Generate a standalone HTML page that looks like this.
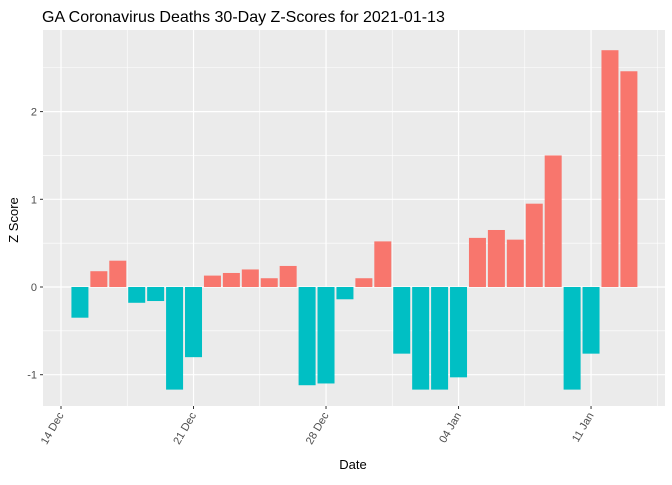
<!DOCTYPE html>
<html><head><meta charset="utf-8"><style>
body{margin:0;background:#fff;font-family:"Liberation Sans",sans-serif}
</style></head><body>
<svg id="chart" width="672" height="480" xmlns="http://www.w3.org/2000/svg" font-family="Liberation Sans, sans-serif">
<rect width="672" height="480" fill="#fff"/>
<text x="42" y="22" font-size="16" fill="#000">GA Coronavirus Deaths 30-Day Z-Scores for 2021-01-13</text>
<rect x="43" y="30" width="622" height="376" fill="#EBEBEB"/>
<g id="grid"></g>
<g id="bars"></g>
<g id="axes"></g>
<text transform="translate(18,220) rotate(-90)" text-anchor="middle" font-size="13" fill="#000">Z Score</text>
<text x="353" y="469" text-anchor="middle" font-size="13" fill="#000">Date</text>
</svg>
<script>
const dayOffsets=[1,2,3,4,5,6,7,8,9,10,11,12,13,14,15,16,17,18,19,20,21,22,23,24,25,26,27,28,29,30];
const zScores=[-0.35,0.18,0.3,-0.18,-0.16,-1.17,-0.8,0.13,0.16,0.2,0.1,0.24,-1.12,-1.1,-0.14,0.1,0.52,-0.76,-1.17,-1.17,-1.03,0.56,0.65,0.54,0.95,1.5,-1.17,-0.76,2.7,2.46];
const xTickDays=[0,7,14,21,28];
const xTickLabels=["14 Dec","21 Dec","28 Dec","04 Jan","11 Jan"];
const yTicks=[-1,0,1,2];
const NS="http://www.w3.org/2000/svg";
const x=d=>61+d*18.93;
const y=v=>287-v*87.7;
const L=43,R=665,T=30,B=406;
function mk(tag,attrs,parent){const e=document.createElementNS(NS,tag);for(const k in attrs)e.setAttribute(k,attrs[k]);parent.appendChild(e);return e;}
const grid=document.getElementById('grid'),bars=document.getElementById('bars'),axes=document.getElementById('axes');
for(let v=-1.5;v<=3;v+=1){const yy=y(v);if(yy>T&&yy<B){const l=mk('line',{x1:L,x2:R,y1:yy,y2:yy,stroke:'#fff','stroke-width':0.6},grid);}}
for(let d=-3.5;d<=35;d+=7){const xx=x(d);if(xx>L&&xx<R){const l=mk('line',{x1:xx,x2:xx,y1:T,y2:B,stroke:'#fff','stroke-width':0.6},grid);}}
yTicks.forEach(v=>{const yy=y(v);const l=mk('line',{x1:L,x2:R,y1:yy,y2:yy,stroke:'#fff','stroke-width':1.2},grid);
const t=mk('text',{x:L-6,y:yy+4,'text-anchor':'end','font-size':11,fill:'#4D4D4D'},axes);t.textContent=v;
const tk=mk('line',{x1:L-3,x2:L,y1:yy,y2:yy,stroke:'#333'},axes);});
xTickDays.forEach((d,i)=>{const xx=x(d);const l=mk('line',{x1:xx,x2:xx,y1:T,y2:B,stroke:'#fff','stroke-width':1.2},grid);
const tk=mk('line',{x1:xx,x2:xx,y1:B,y2:B+3,stroke:'#333'},axes);
const t=mk('text',{x:xx+3,y:B+9,'text-anchor':'end','font-size':11,fill:'#4D4D4D',transform:`rotate(-60 ${xx+3} ${B+9})`},axes);t.textContent=xTickLabels[i];});
dayOffsets.forEach((d,i)=>{const v=zScores[i];const y0=y(0),y1=y(v);
const r=mk('rect',{x:x(d)-8.5,width:17,y:Math.min(y0,y1),height:Math.abs(y1-y0),fill:v>=0?'#F8766D':'#00BFC4'},bars);

});
</script>
</body></html>
